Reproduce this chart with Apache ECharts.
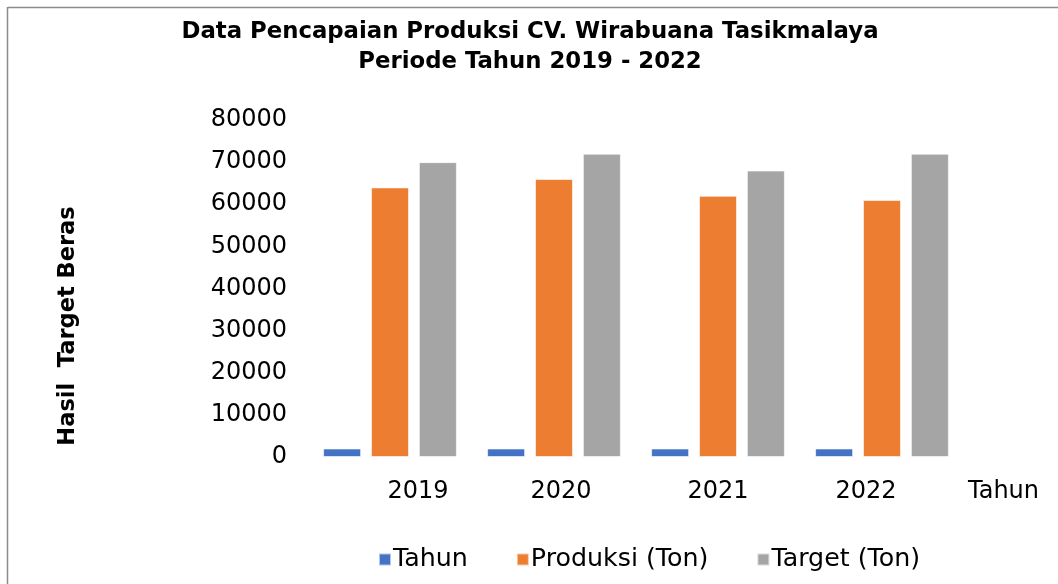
<!DOCTYPE html>
<html>
<head>
<meta charset="utf-8">
<script src="https://cdn.jsdelivr.net/npm/echarts@6/dist/echarts.min.js"></script>
<style>
  html, body { margin: 0; padding: 0; background: #fff; }
  #chart { width: 1058px; height: 584px; }
</style>
</head>
<body>
<div id="chart"></div>
<script>
  // data
  const years = ['2019', '2020', '2021', '2022']
  const tahun = [2019, 2020, 2021, 2022]
  const produksi = [64000, 66000, 62000, 61000]
  const target = [70000, 72000, 68000, 72000]

  const font = 'DejaVu Sans, sans-serif'
  const chart = echarts.init(document.getElementById('chart'))

  const barStyle = function (color) {
    return { color: color, borderColor: 'rgba(255,255,255,0.6)', borderWidth: 1 }
  }

  // the year labels in the original sit a bit off their bar groups
  const labelText = { fontFamily: font, fontSize: 24, color: '#000' }
  const labelRich = {
    y0: Object.assign({ padding: [0, 0, 0, 56] }, labelText),
    y1: Object.assign({ padding: [0, 0, 0, 14] }, labelText),
    y2: Object.assign({ padding: [0, 0, 0, 0] }, labelText),
    y3: Object.assign({ padding: [0, 32, 0, 0] }, labelText)
  }

  const options = {
    animation: false,
    title: {
      text: 'Data Pencapaian Produksi CV. Wirabuana Tasikmalaya\nPeriode Tahun 2019 - 2022',
      left: 525,
      textAlign: 'center',
      top: 12,
      textStyle: {
        fontFamily: font,
        fontWeight: 'bold',
        fontSize: 22.8,
        lineHeight: 30,
        color: '#000'
      }
    },
    legend: {
      bottom: 7,
      left: 373,
      itemWidth: 12,
      itemHeight: 12,
      itemGap: 48,
      icon: 'rect',
      textStyle: { fontFamily: font, fontSize: 25.3, color: '#000', padding: [0, 0, 0, -3] },
      data: ['Tahun', 'Produksi (Ton)', 'Target (Ton)']
    },
    grid: { left: 308, right: 94, top: 120, bottom: 127, containLabel: false },
    xAxis: {
      type: 'category',
      data: years,
      name: 'Tahun',
      nameLocation: 'end',
      nameGap: 4,
      nameTextStyle: {
        fontFamily: font, fontSize: 24, color: '#000',
        align: 'left', verticalAlign: 'top', padding: [23, 0, 0, 0]
      },
      axisLine: { show: false },
      axisTick: { show: false },
      axisLabel: {
        interval: 0,
        hideOverlap: false,
        fontFamily: font, fontSize: 24, color: '#000', margin: 23,
        formatter: function (v, i) { return '{y' + i + '|' + v + '}' },
        rich: labelRich
      }
    },
    yAxis: {
      type: 'value',
      min: 0,
      max: 80000,
      interval: 10000,
      axisLine: { show: false },
      axisTick: { show: false },
      splitLine: { show: false },
      axisLabel: {
        fontFamily: font, fontSize: 24, color: '#000', margin: 21,
        padding: [5, 0, 0, 0],
        formatter: function (v) { return String(v) }
      }
    },
    graphic: [
      {
        type: 'text',
        x: 68,
        y: 326,
        rotation: Math.PI / 2,
        style: {
          text: 'Hasil  Target Beras',
          font: 'bold 22.5px ' + font,
          fill: '#000',
          align: 'center',
          verticalAlign: 'middle'
        }
      },
      { type: 'line', shape: { x1: 8, y1: 7.5, x2: 1058, y2: 7.5 }, style: { stroke: '#8c8c8c', lineWidth: 1.5 } },
      { type: 'line', shape: { x1: 7.5, y1: 7, x2: 7.5, y2: 584 }, style: { stroke: '#8c8c8c', lineWidth: 1.5 } }
    ],
    series: [
      { name: 'Tahun', type: 'bar', data: tahun, barWidth: 38, barGap: '26%', itemStyle: barStyle('#4472C4') },
      { name: 'Produksi (Ton)', type: 'bar', data: produksi, barWidth: 38, barGap: '26%', itemStyle: barStyle('#ED7D31') },
      { name: 'Target (Ton)', type: 'bar', data: target, barWidth: 38, barGap: '26%', itemStyle: barStyle('#A5A5A5') }
    ]
  }
  chart.setOption(options)
</script>
</body>
</html>
